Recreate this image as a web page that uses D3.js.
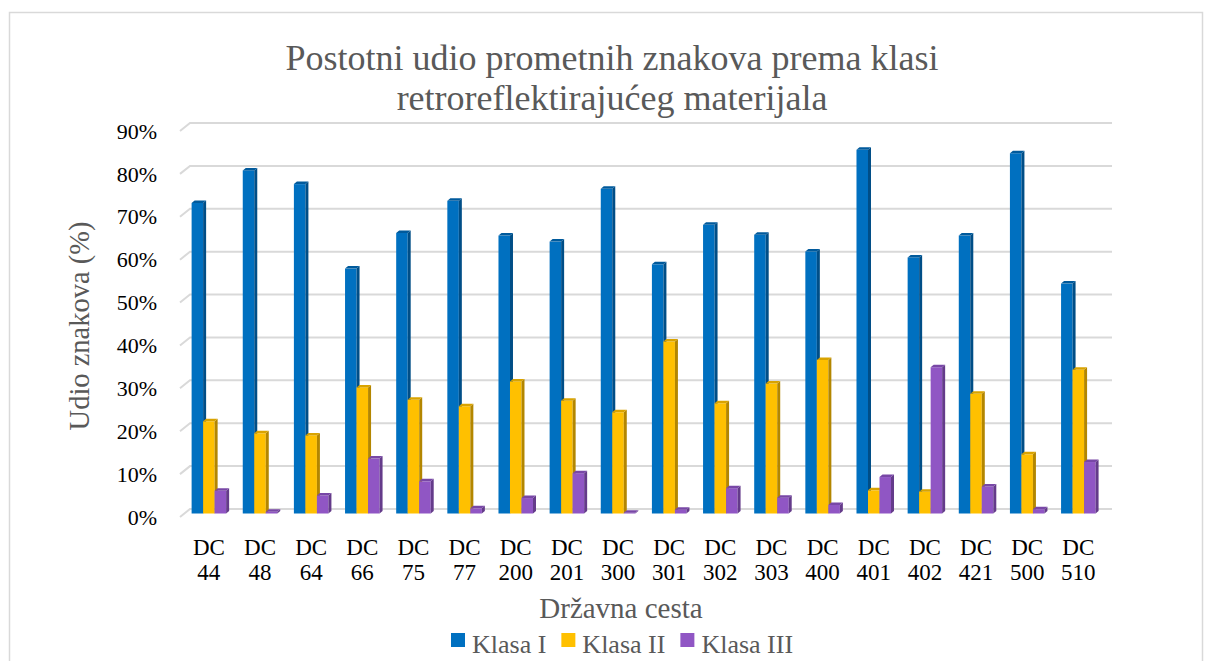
<!DOCTYPE html>
<html>
<head>
<meta charset="utf-8">
<script src="https://cdn.jsdelivr.net/npm/d3@7"></script>
<style>
  body { margin: 0; background: #fff; }
  text { font-family: "Liberation Serif", Tinos, "Times New Roman", Times, serif; }
</style>
</head>
<body>
<div id="chart"></div>
<script>
// Chart data
var categories = ["DC 44", "DC 48", "DC 64", "DC 66", "DC 75", "DC 77", "DC 200", "DC 201", "DC 300",
                  "DC 301", "DC 302", "DC 303", "DC 400", "DC 401", "DC 402", "DC 421", "DC 500", "DC 510"];
var klasaI   = [72.4, 80.0, 76.8, 57.1, 65.4, 72.9, 64.8, 63.4, 75.7, 58.1, 67.3, 65.0, 61.1, 84.8, 59.7, 64.8, 84.0, 53.6];
var klasaII  = [21.5, 18.7, 18.2, 29.4, 26.5, 25.0, 30.8, 26.3, 23.6, 40.1, 25.7, 30.3, 35.8, 5.4, 5.1, 27.9, 13.8, 33.5];
var klasaIII = [5.3, 0.4, 4.2, 12.8, 7.5, 1.2, 3.6, 9.4, 0.2, 0.9, 5.9, 3.7, 2.0, 8.5, 34.1, 6.3, 1.0, 12.0];
var seriesNames = ["Klasa I", "Klasa II", "Klasa III"];
var yTicks = [0, 10, 20, 30, 40, 50, 60, 70, 80, 90];

var width = 1208;
var height = 661;

// colours: front, side, top
var colors = {
    "Klasa I":   {front: "#0070c0", side: "#004e87", top: "#005a9c"},
    "Klasa II":  {front: "#ffc000", side: "#b38600", top: "#d9a300"},
    "Klasa III": {front: "#9056c4", side: "#643b8a", top: "#7847a6"}
};

var series = [klasaI, klasaII, klasaIII];

var svg = d3.select("#chart").append("svg")
    .attr("width", width)
    .attr("height", height);

// chart border
svg.append("rect")
    .attr("x", 9.5).attr("y", 12.5)
    .attr("width", 1193).attr("height", 700)
    .attr("fill", "#fff")
    .attr("stroke", "#d9d9d9")
    .attr("stroke-width", 1.5);

// 3D offsets
var wallDx = 10, wallDy = -8;    // back wall
var barLift = -3.5;              // bars sit a bit behind front plane
var depthDx = 3, depthDy = -2.5; // bar depth

var y = d3.scaleLinear().domain([0, 90]).range([517, 131]);

var x0 = d3.scaleBand()
    .domain(categories)
    .range([183.3, 1103.9])
    .paddingInner(0.325)
    .paddingOuter(0.1625);

var x1 = d3.scaleBand()
    .domain(seriesNames)
    .range([0, x0.bandwidth()]);

// Gridlines on back wall, with a slanted piece on the side wall
var grid = svg.append("g");
yTicks.forEach(function(t) {
    grid.append("path")
        .attr("d", "M180," + y(t) + "L" + (180 + wallDx) + "," + (y(t) + wallDy) + "L1112," + (y(t) + wallDy))
        .attr("fill", "none")
        .attr("stroke", "#d9d9d9")
        .attr("stroke-width", 2);
});

// Y tick labels
svg.append("g").selectAll("text")
    .data(yTicks)
    .enter().append("text")
    .attr("x", 157)
    .attr("y", function(d) { return y(d); })
    .attr("dy", "0.35em")
    .attr("text-anchor", "end")
    .attr("font-size", 22)
    .attr("fill", "#000")
    .text(function(d) { return d + "%"; });

// Bars
var base = y(0) + barLift;
var bars = svg.append("g");
categories.forEach(function(cat, i) {
    seriesNames.forEach(function(name, s) {
        var v = series[s][i];
        var bx = x0(cat) + x1(name);
        var bw = x1.bandwidth();
        var by = y(v) + barLift;
        var c = colors[name];
        var g = bars.append("g");
        // front face
        g.append("rect")
            .attr("x", bx).attr("y", by)
            .attr("width", bw).attr("height", Math.max(0, base - by))
            .attr("fill", c.front);
        // side face
        g.append("path")
            .attr("d", "M" + (bx + bw) + "," + by +
                       "L" + (bx + bw + depthDx) + "," + (by + depthDy) +
                       "L" + (bx + bw + depthDx) + "," + (base + depthDy) +
                       "L" + (bx + bw) + "," + base + "Z")
            .attr("fill", c.side);
        // top face
        g.append("path")
            .attr("d", "M" + bx + "," + by +
                       "L" + (bx + depthDx) + "," + (by + depthDy) +
                       "L" + (bx + bw + depthDx) + "," + (by + depthDy) +
                       "L" + (bx + bw) + "," + by + "Z")
            .attr("fill", c.top);
    });
});

// X category labels (two lines)
var xl = svg.append("g").selectAll("text")
    .data(categories)
    .enter().append("text")
    .attr("text-anchor", "middle")
    .attr("font-size", 23)
    .attr("fill", "#000");
xl.append("tspan")
    .attr("x", function(d) { return x0(d) + x0.bandwidth() / 2; })
    .attr("y", 555)
    .text(function(d) { return d.split(" ")[0]; });
xl.append("tspan")
    .attr("x", function(d) { return x0(d) + x0.bandwidth() / 2; })
    .attr("y", 580)
    .text(function(d) { return d.split(" ")[1]; });

// Title, two lines
svg.append("text")
    .attr("x", 612).attr("y", 70)
    .attr("text-anchor", "middle")
    .attr("font-size", 36)
    .attr("fill", "#595959")
    .text("Postotni udio prometnih znakova prema klasi");
svg.append("text")
    .attr("x", 612).attr("y", 110)
    .attr("text-anchor", "middle")
    .attr("font-size", 36)
    .attr("fill", "#595959")
    .text("retroreflektirajućeg materijala");

// Axis titles
svg.append("text")
    .attr("transform", "translate(89,326) rotate(-90)")
    .attr("text-anchor", "middle")
    .attr("font-size", 28.5)
    .attr("fill", "#595959")
    .text("Udio znakova (%)");

svg.append("text")
    .attr("x", 621).attr("y", 618)
    .attr("text-anchor", "middle")
    .attr("font-size", 29)
    .attr("fill", "#595959")
    .text("Državna cesta");

// Legend
var legend = svg.append("g");
var lx = 451;
seriesNames.forEach(function(name) {
    legend.append("rect")
        .attr("x", lx).attr("y", 633)
        .attr("width", 14).attr("height", 14)
        .attr("fill", colors[name].front);
    var t = legend.append("text")
        .attr("x", lx + 21).attr("y", 653)
        .attr("font-size", 26)
        .attr("fill", "#595959")
        .text(name);
    lx += 21 + t.node().getComputedTextLength() + 15;
});
</script>
</body>
</html>
